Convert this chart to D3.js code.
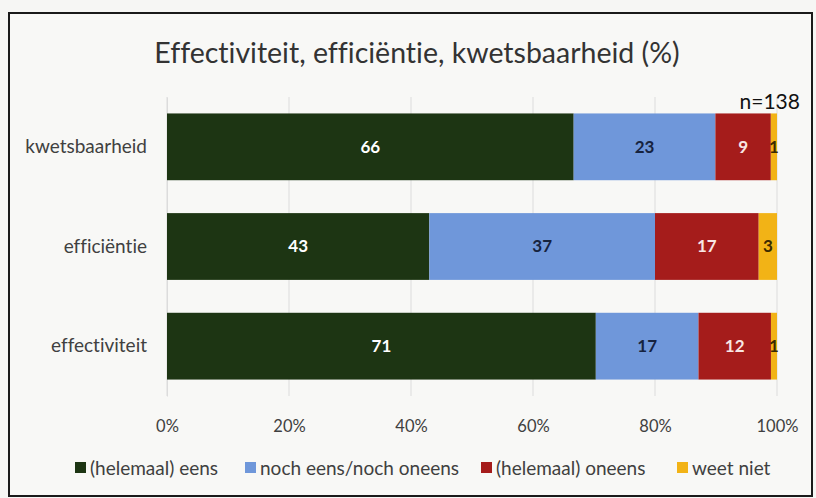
<!DOCTYPE html>
<html>
<head>
<meta charset="utf-8">
<script src="https://cdn.jsdelivr.net/npm/d3@7"></script>
<style>
  body { margin: 0; background: #f6f6f4; }
  svg { display: block; }
  text { font-variant-ligatures: none; }
</style>
</head>
<body>
<svg width="816" height="498"></svg>
<script>
// categories from top to bottom
var categories = ["kwetsbaarheid", "efficiëntie", "effectiviteit"];
var seriesNames = ["(helemaal) eens", "noch eens/noch oneens", "(helemaal) oneens", "weet niet"];
var seriesColors = ["#1d3513", "#6f97da", "#a51c1b", "#f2b316"];
var labelColors = ["#ffffff", "#16233f", "#f8e6e4", "#3a2a00"];
// values per category, same order as seriesNames
var kwetsbaarheid = [66, 23, 9, 1];
var efficientie = [43, 37, 17, 3];
var effectiviteit = [71, 17, 12, 1];
var tickValues = [0, 0.2, 0.4, 0.6, 0.8, 1];

var rows = [kwetsbaarheid, efficientie, effectiviteit];
var font = "Lato, 'Open Sans', sans-serif";

var svg = d3.select("svg");

// frame
svg.append("rect")
  .attr("x", 9).attr("y", 13)
  .attr("width", 803).attr("height", 483)
  .attr("fill", "#f8f8f6")
  .attr("stroke", "#1a1a1a")
  .attr("stroke-width", 2);

var plotLeft = 167, plotRight = 777, plotTop = 97, plotBottom = 396;

var xScale = d3.scaleLinear().domain([0, 1]).range([plotLeft, plotRight]);
var yScale = d3.scaleBand().domain(categories).range([plotTop, plotBottom]).paddingInner(0.33).paddingOuter(0.165);

// gridlines
svg.append("g")
  .selectAll("line")
  .data(tickValues)
  .enter()
  .append("line")
  .attr("x1", d => xScale(d)).attr("x2", d => xScale(d))
  .attr("y1", plotTop).attr("y2", plotBottom)
  .attr("stroke", "#dcdcdc")
  .attr("stroke-width", 1);

// x axis labels
var xAxis = d3.axisBottom(xScale).tickValues(tickValues).tickFormat(d3.format(".0%")).tickSize(0);
svg.append("g")
  .attr("transform", `translate(0,${plotBottom + 21})`)
  .call(xAxis)
  .call(g => g.select(".domain").remove())
  .selectAll("text")
  .attr("dy", "0.71em")
  .style("font-family", font)
  .style("font-size", "16.5px")
  .style("fill", "#404040");

// y axis labels
var yAxis = d3.axisLeft(yScale).tickSize(0).tickPadding(20);
svg.append("g")
  .attr("transform", `translate(${plotLeft},0)`)
  .call(yAxis)
  .call(g => g.select(".domain").attr("stroke", "#dcdcdc"))
  .selectAll("text")
  .style("font-family", font)
  .style("font-size", "19px")
  .style("fill", "#404040");

// stack the normalized values
var stackData = categories.map(function (c, i) {
  var row = rows[i];
  var total = d3.sum(row);
  var o = { cat: c };
  seriesNames.forEach(function (s, j) { o[s] = row[j] / total; o["raw_" + j] = row[j]; });
  return o;
});
var stack = d3.stack().keys(seriesNames);
var layers = stack(stackData);

var g = svg.append("g");
layers.forEach(function (layer, j) {
  var lg = g.append("g");
  lg.selectAll("rect")
    .data(layer)
    .enter()
    .append("rect")
    .attr("x", d => xScale(d[0]))
    .attr("y", d => yScale(d.data.cat))
    .attr("width", d => xScale(d[1]) - xScale(d[0]))
    .attr("height", yScale.bandwidth())
    .attr("fill", seriesColors[j]);

  lg.selectAll("text")
    .data(layer)
    .enter()
    .append("text")
    .attr("x", d => (xScale(d[0]) + xScale(d[1])) / 2)
    .attr("y", d => yScale(d.data.cat) + yScale.bandwidth() / 2)
    .attr("dy", "0.35em")
    .attr("text-anchor", "middle")
    .style("font-family", font)
    .style("font-size", "17px")
    .style("font-weight", "bold")
    .style("fill", labelColors[j])
    .text(d => d.data["raw_" + j]);
});

// title
svg.append("text")
  .attr("x", 417)
  .attr("y", 63)
  .attr("text-anchor", "middle")
  .style("font-family", font)
  .style("font-size", "28.5px")
  .style("fill", "#333333")
  .text("Effectiviteit, efficiëntie, kwetsbaarheid (%)");

// n label
svg.append("text")
  .attr("x", 800)
  .attr("y", 109)
  .attr("text-anchor", "end")
  .style("font-family", font)
  .style("font-size", "21px")
  .style("fill", "#111111")
  .text("n=138");

// legend
var legendX = [75, 245, 481, 677];
var legend = svg.selectAll("g.legend")
  .data(seriesNames)
  .enter()
  .append("g")
  .attr("class", "legend")
  .attr("transform", (d, i) => `translate(${legendX[i]},468)`);

legend.append("rect")
  .attr("x", 0).attr("y", -6)
  .attr("width", 11).attr("height", 11)
  .attr("fill", (d, i) => seriesColors[i]);

legend.append("text")
  .attr("x", 15)
  .attr("y", 0)
  .attr("dy", "0.35em")
  .style("font-family", font)
  .style("font-size", "19px")
  .style("fill", "#404040")
  .text(d => d);
</script>
</body>
</html>
